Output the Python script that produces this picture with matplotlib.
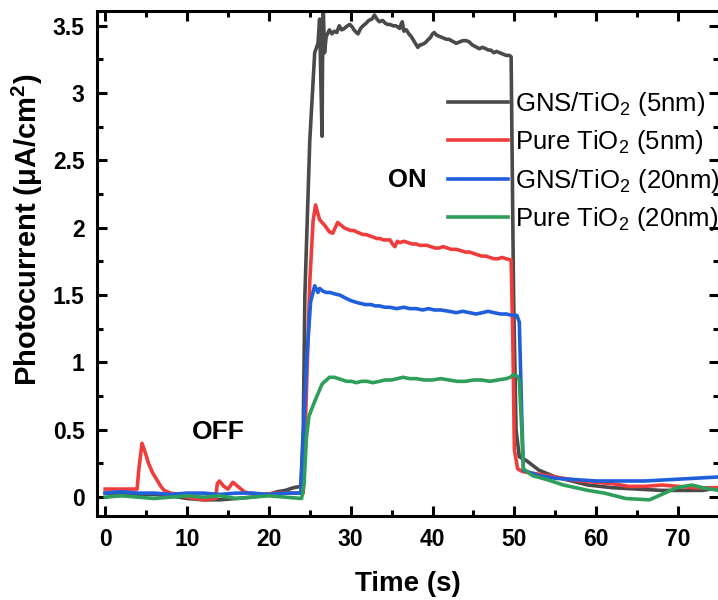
import matplotlib
matplotlib.use("Agg")
import matplotlib.pyplot as plt
from matplotlib.ticker import MultipleLocator, FuncFormatter

plt.rcParams["font.family"] = ["Liberation Sans", "DejaVu Sans"]
plt.rcParams["mathtext.default"] = "regular"

# photocurrent transients, (time s, current uA/cm2)
gns_5nm = [(0, 0.03), (2, 0.03), (4, 0.02), (6, 0.02), (8, 0.01), (10, -0.01), (12, -0.02),
           (14, -0.02), (16, -0.01), (18, 0.0), (20, 0.02), (21, 0.04), (22, 0.05), (23, 0.07),
           (23.9, 0.08), (24.2, 0.5), (24.4, 1.5), (25.0, 2.65), (25.6, 3.3), (26.0, 3.37),
           (26.2, 3.55), (26.35, 3.1), (26.5, 2.68), (26.55, 3.2), (26.65, 3.62), (26.8, 3.30),
           (27.0, 3.42), (27.4, 3.47), (27.7, 3.44), (28.0, 3.46), (28.3, 3.45), (28.6, 3.50),
           (28.9, 3.47), (29.2, 3.48), (29.6, 3.50), (29.9, 3.51), (30.2, 3.49), (30.4, 3.47),
           (30.7, 3.45), (30.9, 3.44), (31.2, 3.48), (31.5, 3.50), (31.9, 3.52), (32.2, 3.54),
           (32.6, 3.55), (32.9, 3.58), (33.2, 3.55), (33.5, 3.53), (33.9, 3.54), (34.2, 3.52),
           (34.5, 3.51), (34.8, 3.51), (35.2, 3.50), (35.5, 3.50), (35.8, 3.49), (36.0, 3.48),
           (36.2, 3.52), (36.3, 3.53), (36.5, 3.46), (36.8, 3.47), (37.1, 3.44), (37.4, 3.42),
           (37.8, 3.38), (38.2, 3.34), (38.5, 3.36), (38.7, 3.36), (39.0, 3.37), (39.2, 3.38),
           (39.5, 3.40), (39.7, 3.41), (40.0, 3.44), (40.2, 3.45), (40.5, 3.43), (40.9, 3.42),
           (41.3, 3.41), (41.7, 3.40), (42.0, 3.40), (42.3, 3.39), (42.6, 3.38), (42.9, 3.37),
           (43.3, 3.38), (43.7, 3.39), (44.1, 3.39), (44.5, 3.38), (44.8, 3.36), (45.1, 3.35),
           (45.4, 3.34), (45.7, 3.33), (46.1, 3.34), (46.5, 3.33), (46.8, 3.32), (47.1, 3.32),
           (47.5, 3.30), (47.8, 3.31), (48.2, 3.30), (48.6, 3.29), (49.0, 3.28), (49.4, 3.28),
           (49.6, 3.27), (49.9, 1.5), (50.2, 0.5), (50.6, 0.30), (51.5, 0.27), (53.0, 0.20),
           (55.0, 0.15), (57.0, 0.12), (59.0, 0.09), (62.0, 0.07), (65.0, 0.06), (68.0, 0.05),
           (71.0, 0.05), (73.0, 0.05), (75.0, 0.07)]

pure_5nm = [(0, 0.06), (1, 0.06), (2, 0.06), (3, 0.06), (3.9, 0.06), (4.1, 0.2), (4.5, 0.40),
            (4.9, 0.33), (5.3, 0.25), (5.8, 0.18), (6.3, 0.13), (6.8, 0.08), (7.2, 0.05),
            (8, 0.03), (9, 0.02), (10, 0.0), (11, -0.01), (12, -0.02), (13.5, -0.01), (13.7, 0.10),
            (13.95, 0.12), (14.5, 0.08), (15.0, 0.06), (15.6, 0.11), (16.2, 0.08), (17.0, 0.04),
            (17.5, 0.03), (19, 0.02), (21, 0.03), (23, 0.03), (24.2, 0.03), (24.6, 0.8),
            (25.0, 1.6), (25.4, 2.05), (25.7, 2.17), (26.2, 2.06), (26.8, 2.02), (27.4, 1.97),
            (27.8, 1.96), (28.1, 2.00), (28.4, 2.04), (28.8, 2.02), (29.2, 2.00), (29.6, 1.99),
            (30.0, 1.98), (30.4, 1.98), (30.7, 1.97), (31.1, 1.96), (31.5, 1.95), (31.9, 1.95),
            (32.3, 1.94), (32.8, 1.93), (33.2, 1.92), (33.6, 1.92), (34.0, 1.91), (34.4, 1.91),
            (34.8, 1.91), (35.1, 1.88), (35.4, 1.86), (35.7, 1.90), (36.0, 1.89), (36.5, 1.90),
            (37.0, 1.89), (37.5, 1.88), (38.0, 1.88), (38.4, 1.87), (38.8, 1.87), (39.3, 1.87),
            (39.8, 1.86), (40.3, 1.85), (40.8, 1.85), (41.3, 1.86), (41.8, 1.85), (42.3, 1.84),
            (42.9, 1.84), (43.5, 1.83), (44.0, 1.82), (44.5, 1.82), (45.0, 1.81), (45.5, 1.80),
            (46.0, 1.79), (46.5, 1.79), (47.0, 1.78), (47.5, 1.77), (48.0, 1.77), (48.5, 1.78),
            (49.0, 1.77), (49.6, 1.76), (49.8, 1.2), (50.0, 0.35), (50.4, 0.21), (51.0, 0.19),
            (52, 0.18), (54, 0.16), (56, 0.14), (58, 0.12), (60, 0.11), (62, 0.10), (64, 0.08),
            (66, 0.08), (68, 0.09), (70, 0.08), (72, 0.07), (75, 0.07)]

gns_20nm = [(0, 0.03), (2, 0.04), (4, 0.03), (6, 0.03), (8, 0.02), (10, 0.03), (12, 0.03),
            (14, 0.02), (16, 0.03), (18, 0.03), (20, 0.02), (22, 0.03), (23.9, 0.03), (24.1, 0.3),
            (24.6, 1.0), (25.1, 1.45), (25.6, 1.57), (26.0, 1.52), (26.2, 1.55), (26.6, 1.53),
            (27.0, 1.52), (27.5, 1.52), (28.0, 1.51), (28.7, 1.50), (29.3, 1.48), (30.0, 1.46),
            (30.5, 1.45), (31.1, 1.44), (31.8, 1.43), (32.5, 1.43), (33.0, 1.42), (33.5, 1.42),
            (34.2, 1.41), (34.8, 1.41), (35.6, 1.40), (36.5, 1.41), (37.2, 1.40), (38.0, 1.40),
            (38.8, 1.39), (39.5, 1.40), (40.2, 1.39), (41.0, 1.39), (42.0, 1.38), (42.9, 1.37),
            (43.7, 1.38), (44.5, 1.37), (45.3, 1.36), (46.1, 1.37), (46.8, 1.38), (47.5, 1.37),
            (48.3, 1.36), (49.0, 1.36), (49.7, 1.35), (50.3, 1.35), (50.6, 1.3), (50.9, 0.6),
            (51.1, 0.2), (52, 0.18), (53, 0.16), (55, 0.14), (57.5, 0.13), (60, 0.12), (63, 0.12),
            (66, 0.12), (69, 0.13), (72, 0.14), (75, 0.15)]

pure_20nm = [(0, 0.0), (2, 0.01), (4, 0.0), (6, -0.01), (8, 0.0), (10, 0.01), (12, 0.0),
             (14, 0.01), (16, -0.01), (18, 0.0), (20, 0.01), (22, 0.0), (24.0, -0.01), (24.3, 0.1),
             (24.6, 0.45), (24.9, 0.6), (25.2, 0.65), (25.8, 0.74), (26.5, 0.84), (27.4, 0.89),
             (28.0, 0.89), (28.5, 0.88), (29.0, 0.87), (29.5, 0.86), (30.1, 0.86), (30.7, 0.85),
             (31.3, 0.86), (32, 0.86), (32.7, 0.85), (33.5, 0.86), (34.2, 0.87), (35, 0.87),
             (35.7, 0.88), (36.4, 0.89), (37.2, 0.88), (38, 0.88), (39, 0.87), (40, 0.87),
             (41, 0.88), (42, 0.87), (43, 0.86), (44, 0.86), (45, 0.87), (46, 0.87), (47, 0.86),
             (48, 0.87), (49, 0.88), (49.5, 0.89), (49.9, 0.91), (50.3, 0.90), (50.6, 0.87),
             (50.9, 0.5), (51.1, 0.21), (52.2, 0.16), (54, 0.13), (56, 0.09), (57.5, 0.07),
             (59, 0.05), (61, 0.03), (63.6, -0.01), (66.5, -0.02), (68, 0.02), (69.8, 0.07),
             (71.7, 0.09), (73, 0.07), (75, 0.05)]

series = [
    (gns_5nm, "#4a4a4a", "GNS/TiO$_2$ (5nm)"),
    (pure_5nm, "#ef3d3d", "Pure TiO$_2$ (5nm)"),
    (gns_20nm, "#1f5fdc", "GNS/TiO$_2$ (20nm)"),
    (pure_20nm, "#2e9e5b", "Pure TiO$_2$ (20nm)"),
]

fig = plt.figure(figsize=(7.18, 6.0), dpi=100)
ax = fig.add_axes([97 / 718, 84 / 600, 622 / 718, 505 / 600])

for pts, color, label in series:
    t = [p[0] for p in pts]
    y = [p[1] for p in pts]
    ax.plot(t, y, color=color, lw=2.6, label=label)

ax.set_xlim(-1, 75)
ax.set_ylim(-0.14, 3.61)
ax.xaxis.set_major_locator(MultipleLocator(10))
ax.xaxis.set_minor_locator(MultipleLocator(5))
ax.yaxis.set_major_locator(MultipleLocator(0.5))
ax.yaxis.set_minor_locator(MultipleLocator(0.25))
ax.yaxis.set_major_formatter(FuncFormatter(lambda v, p: "%g" % v))

for s in ax.spines.values():
    s.set_linewidth(2.2)
ax.tick_params(which="both", direction="in", top=True, right=True, width=2.2)
ax.tick_params(which="major", length=7, pad=9, labelsize=16.5)
ax.tick_params(which="minor", length=4)
for lab in ax.get_xticklabels() + ax.get_yticklabels():
    lab.set_fontweight("bold")

ax.set_xlabel("Time (s)", fontsize=20, fontweight="bold", labelpad=14)
ax.set_ylabel("Photocurrent (μA/cm$^2$)", fontsize=21, fontweight="bold")
ax.yaxis.set_label_coords(-0.084, 0.566)

ax.text(36.95, 2.355, "ON", fontsize=18.5, fontweight="bold", ha="center", va="center")
ax.text(13.8, 0.483, "OFF", fontsize=19, fontweight="bold", ha="center", va="center")

ax.legend(loc="upper left", bbox_to_anchor=(448 / 718, 1 - 90 / 600),
          bbox_transform=fig.transFigure, frameon=False, fontsize=18.5,
          handlelength=2.33, handletextpad=0.27, labelspacing=0.4,
          borderpad=0, borderaxespad=0)

fig.savefig("out.png", dpi=100)
